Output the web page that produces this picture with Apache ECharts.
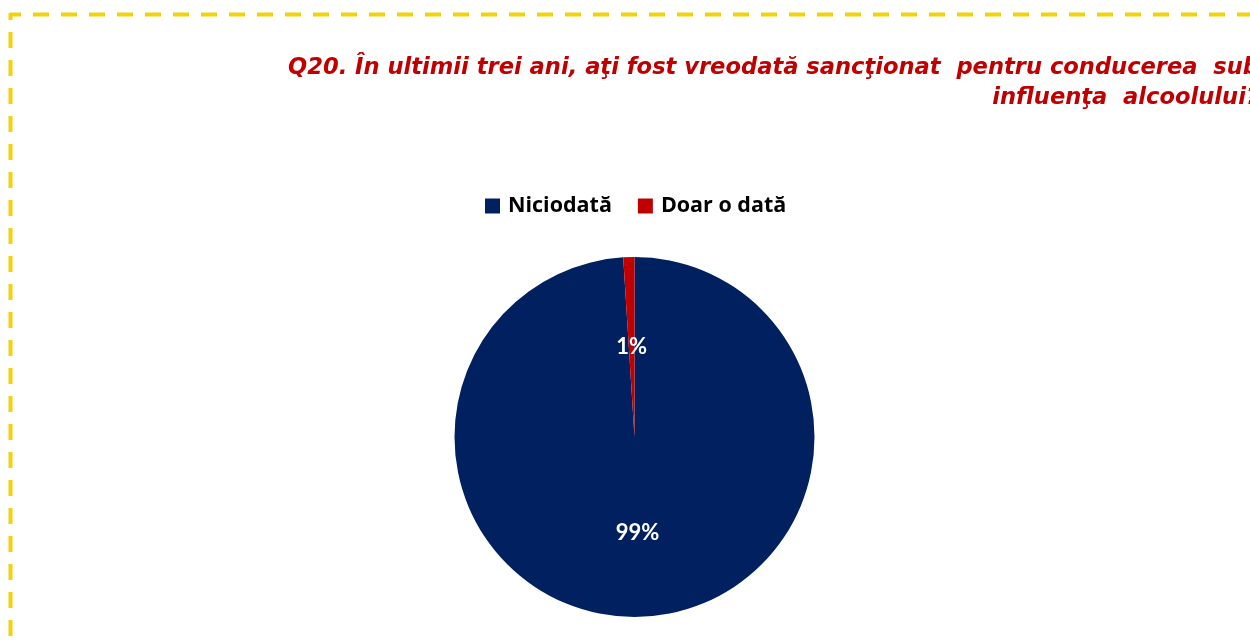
<!DOCTYPE html>
<html>
<head>
<meta charset="utf-8">
<script src="https://cdn.jsdelivr.net/npm/echarts@6/dist/echarts.min.js"></script>
<style>
  html, body { margin: 0; padding: 0; overflow: hidden; background: #fff; }
  #chart { width: 1250px; height: 641px; }
</style>
</head>
<body>
<div id="chart"></div>
<script>
// data
var titleText = 'Q20. În ultimii trei ani, aţi fost vreodată sancţionat  pentru conducerea  sub\ninfluenţa  alcoolului?'
var categories = ['Niciodată', 'Doar o dată']
var values = [99, 1]
var colors = ['#002060', '#C00000']

var chart = echarts.init(document.getElementById('chart'))

chart.setOption({
  animation: false,
  color: colors,
  legend: {
    data: categories,
    left: 480,
    top: 190,
    icon: 'rect',
    itemWidth: 15,
    itemHeight: 15,
    itemGap: 26,
    textStyle: {
      fontFamily: 'Open Sans',
      fontWeight: 'bold',
      fontSize: 21.5,
      color: '#000',
      padding: [0, 0, 0, 3]
    }
  },
  graphic: [
    // title, right aligned (runs past the right edge, as in the picture)
    {
      type: 'text',
      x: 1259,
      y: 53,
      style: {
        text: titleText,
        align: 'right',
        verticalAlign: 'top',
        font: 'italic bold 22.6px "DejaVu Sans"',
        lineHeight: 30,
        fill: '#C00000'
      }
    },
    // dashed yellow frame (top and left edges visible)
    {
      type: 'line',
      shape: { x1: 10, y1: 14.5, x2: 1300, y2: 14.5 },
      style: { stroke: '#F4D10E', lineWidth: 4, lineDash: [16, 12], lineDashOffset: 5 }
    },
    {
      type: 'line',
      shape: { x1: 10.5, y1: 13, x2: 10.5, y2: 700 },
      style: { stroke: '#F4D10E', lineWidth: 4, lineDash: [16, 12], lineDashOffset: 9 }
    }
  ],
  series: [{
    type: 'pie',
    center: [634.5, 437],
    radius: [0, 180],
    startAngle: 90,
    clockwise: true,
    data: categories.map(function (name, i) {
      return { name: name, value: values[i] }
    }),
    label: {
      show: true,
      position: 'inside',
      formatter: '{c}%',
      fontFamily: 'Lato',
      fontWeight: 'bold',
      fontSize: 22,
      color: '#fff',
      offset: [0, 3]
    },
    labelLine: { show: false },
    itemStyle: { borderWidth: 0 },
    emphasis: { disabled: true }
  }]
})
</script>
</body>
</html>
